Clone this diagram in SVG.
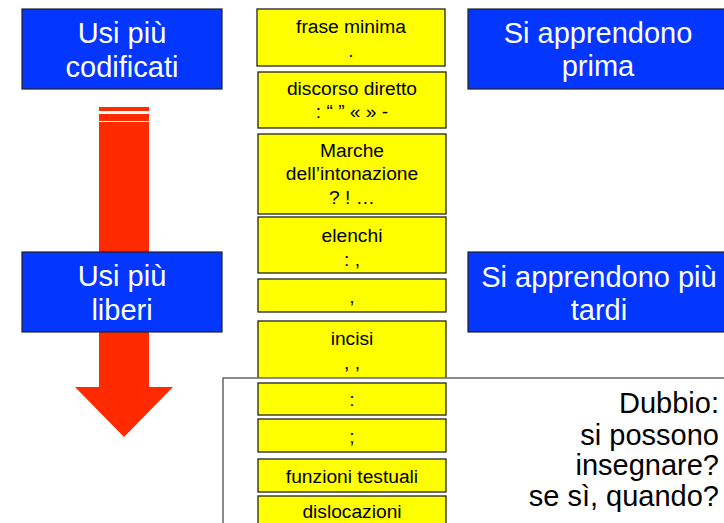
<svg xmlns="http://www.w3.org/2000/svg" width="724" height="523" viewBox="0 0 724 523">
<style>
.blue{fill:#0336FF;stroke:#222;stroke-width:1.2}
.bt{fill:#fff;font-family:"Liberation Sans",Arial,sans-serif;font-size:29px;text-anchor:middle}
.yel{fill:#FFFF00;stroke:#222;stroke-width:1.3}
.yt{fill:#000;font-family:"Liberation Sans",Arial,sans-serif;font-size:19.2px;text-anchor:middle}
.dt{fill:#000;font-family:"Liberation Sans",Arial,sans-serif;font-size:29px;text-anchor:end}
</style>
<rect width="724" height="523" fill="#fff"/>
<g id="arrow">
<rect x="99" y="107" width="50" height="4" fill="#FF2A00"/>
<rect x="99" y="114" width="50" height="7" fill="#FF2A00"/>
<polygon points="99,122 149,122 149,387 173,387 124,437 75,387 99,387" fill="#FF2A00"/>
</g>
<g id="usi-codificati">
<rect class="blue" x="22" y="9" width="200" height="80"/>
<text class="bt" x="122" y="43">Usi più</text>
<text class="bt" x="122" y="77">codificati</text>
</g>
<g id="usi-liberi">
<rect class="blue" x="22" y="252" width="200" height="80"/>
<text class="bt" x="122" y="286">Usi più</text>
<text class="bt" x="122" y="320">liberi</text>
</g>
<g id="si-prima">
<rect class="blue" x="468" y="9" width="262" height="80"/>
<text class="bt" x="598" y="43">Si apprendono</text>
<text class="bt" x="598" y="76">prima</text>
</g>
<g id="si-tardi">
<rect class="blue" x="468" y="252" width="262" height="80"/>
<text class="bt" x="599" y="287">Si apprendono più</text>
<text class="bt" x="599" y="320">tardi</text>
</g>
<g id="b1">
<rect class="yel" x="257" y="9" width="188" height="57"/>
<text class="yt" x="351" y="33">frase minima</text>
<text class="yt" x="351" y="57">.</text>
</g>
<g id="b2">
<rect class="yel" x="258" y="72" width="188" height="56"/>
<text class="yt" x="352" y="95">discorso diretto</text>
<text class="yt" x="352" y="118">: “ ” « » -</text>
</g>
<g id="b3">
<rect class="yel" x="258" y="134" width="188" height="80"/>
<text class="yt" x="352" y="157">Marche</text>
<text class="yt" x="352" y="180">dell’intonazione</text>
<text class="yt" x="352" y="204">? ! …</text>
</g>
<g id="b4">
<rect class="yel" x="258" y="217" width="188" height="56"/>
<text class="yt" x="352" y="242">elenchi</text>
<text class="yt" x="352" y="266">: ,</text>
</g>
<g id="b5">
<rect class="yel" x="258" y="279" width="188" height="33"/>
<text class="yt" x="352" y="303">,</text>
</g>
<g id="b6">
<rect class="yel" x="258" y="321" width="188" height="60"/>
<text class="yt" x="352" y="345">incisi</text>
<text class="yt" x="352" y="369">, ,</text>
</g>
<g id="frame">
<rect x="223" y="378" width="510" height="160" fill="#fff" stroke="#666" stroke-width="1.5"/>
<text class="dt" x="719" y="413">Dubbio:</text>
<text class="dt" x="719" y="445">si possono</text>
<text class="dt" x="719" y="475">insegnare?</text>
<text class="dt" x="719" y="506">se sì, quando?</text>
</g>
<g id="b7">
<rect class="yel" x="258" y="383" width="188" height="32"/>
<text class="yt" x="352" y="406">:</text>
</g>
<g id="b8">
<rect class="yel" x="258" y="419" width="188" height="33"/>
<text class="yt" x="352" y="443">;</text>
</g>
<g id="b9">
<rect class="yel" x="258" y="459" width="188" height="33"/>
<text class="yt" x="352" y="483">funzioni testuali</text>
</g>
<g id="b10">
<rect class="yel" x="258" y="496" width="188" height="40"/>
<text class="yt" x="352" y="518">dislocazioni</text>
</g>
<g id="connectors"></g>
</svg>
